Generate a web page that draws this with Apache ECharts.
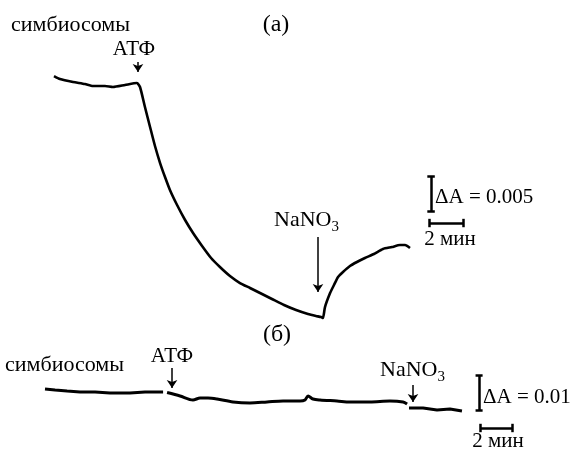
<!DOCTYPE html>
<html lang="ru">
<head>
    <meta charset="UTF-8">
    <title>симбиосомы</title>
    <script src="https://cdn.jsdelivr.net/npm/echarts@6.0.0/dist/echarts.min.js"></script>
    <style>
        *{
            margin: 0;
            padding: 0;
        }
        .container{
            width: 573px;
            height: 452px;
        }
    </style>
</head>
<body>
<div class="container"></div>
<script>
    // (а) время, мин / изменение поглощения ΔA
    let timeA = [0, 0.35, 1.12, 1.82, 2.29, 3.0, 3.47, 4.18, 4.88,
        5.06, 5.35, 5.65, 5.94, 6.24, 6.53, 6.82, 7.24, 7.71, 8.18,
        8.71, 9.24, 9.76, 10.35, 10.94, 11.53, 12.12, 12.82, 13.53, 14.24,
        14.94, 15.41, 15.71, 15.82,
        15.94, 16.24, 16.47, 16.71, 17.0, 17.41, 17.82, 18.29, 18.82, 19.35,
        19.88, 20.35, 20.65, 20.94];
    let absA = [0.00014, -0.00029, -0.00071, -0.0010, -0.00129, -0.00129, -0.00143, -0.00114, -0.00086,
        -0.00143, -0.00429, -0.00714, -0.00986, -0.01229, -0.01429, -0.01614, -0.01829, -0.02043, -0.02229,
        -0.02414, -0.02586, -0.02714, -0.02843, -0.02943, -0.03014, -0.03086, -0.03171, -0.03257, -0.03329,
        -0.03386, -0.03414, -0.03429, -0.03443,
        -0.03286, -0.03086, -0.02971, -0.02857, -0.02786, -0.0270, -0.02643, -0.02586, -0.02529, -0.02457,
        -0.02429, -0.0240, -0.0240, -0.02443];

    // (б) три участка записи: до АТФ, после АТФ, после NaNO3
    let timeB1 = [0, 0.63, 1.38, 2.19, 3.13, 4.06, 5.31, 6.25, 7.38];
    let absB1 = [0, -0.00029, -0.00057, -0.00086, -0.00086, -0.00114, -0.00114, -0.00086, -0.00086];
    let timeB2 = [7.63, 8.44, 9.25, 9.69, 10.19, 10.75, 11.75, 12.81, 13.88, 14.88, 15.94,
        16.25, 16.44, 16.75, 17.19, 18.25, 19.06, 20.31, 21.56, 22.38, 22.63];
    let absB2 = [-0.0010, -0.0020, -0.00314, -0.00257, -0.00257, -0.00286, -0.00371, -0.0040, -0.00371, -0.00343, -0.00343,
        -0.00314, -0.00200, -0.00286, -0.00314, -0.00343, -0.00371, -0.00371, -0.00343, -0.00371, -0.00429];
    let timeB3 = [22.75, 23.63, 24.5, 25.31, 26.06];
    let absB3 = [-0.00543, -0.00543, -0.0060, -0.00571, -0.00629];

    // добавки: [время, начало стрелки, острие]
    let arrowsA = [[4.94, 0.00214, 0.00071], [15.53, -0.02286, -0.03071]];
    let arrowsB = [[7.94, 0.0060, 0.00029], [23.0, 0.00114, -0.00371]];

    // масштаб
    let scaleA = {t: 22.18, a: -0.01414, dA: 0.005, dt: 2, ty: -0.02086, t0: 22.06};
    let scaleB = {t: 27.13, a: 0.0040, dA: 0.01, dt: 2, ty: -0.01114, t0: 27.19};

    let zip = (xs, ys) => xs.map((x, i) => [x, ys[i]]);

    function bars(s, capT, capA) {
        return [
            {coords: [[s.t, s.a], [s.t, s.a - s.dA]]},
            {coords: [[s.t - capT, s.a], [s.t + capT, s.a]]},
            {coords: [[s.t - capT, s.a - s.dA], [s.t + capT, s.a - s.dA]]},
            {coords: [[s.t0, s.ty], [s.t0 + s.dt, s.ty]]},
            {coords: [[s.t0, s.ty + capA], [s.t0, s.ty - capA]]},
            {coords: [[s.t0 + s.dt, s.ty + capA], [s.t0 + s.dt, s.ty - capA]]}
        ];
    }

    let main = document.querySelectorAll(".container");
    let mycharts = echarts.init(main[0]);

    let trace = {color: '#000', width: 2.6};
    let font = 'Liberation Serif';

    function txt(text, x, y, size, align) {
        return {
            type: 'text',
            style: {
                text: text, x: x, y: y,
                font: size + 'px "' + font + '"',
                fill: '#000',
                textAlign: align, align: align,
                textVerticalAlign: 'middle', verticalAlign: 'middle'
            }
        };
    }

    function nano(x, y) {
        return {
            type: 'text',
            style: {
                text: '{n|NaNO}{s|3}', x: x, y: y,
                fill: '#000',
                align: 'left', verticalAlign: 'middle',
                rich: {
                    n: {fontSize: 22, fontFamily: font, lineHeight: 25, verticalAlign: 'top'},
                    s: {fontSize: 15, fontFamily: font, lineHeight: 15, verticalAlign: 'bottom'}
                }
            }
        };
    }

    let Option = {
        animation: false,
        backgroundColor: '#fff',
        grid: [
            {left: 0, right: 0, top: 0, bottom: 0},
            {left: 0, right: 0, top: 0, bottom: 0}
        ],
        xAxis: [
            {type: 'value', gridIndex: 0, min: -54 / 17, max: 519 / 17, show: false},
            {type: 'value', gridIndex: 1, min: -45 / 16, max: 528 / 16, show: false}
        ],
        yAxis: [
            {type: 'value', gridIndex: 0, min: -0.375 / 7, max: 0.077 / 7, show: false},
            {type: 'value', gridIndex: 1, min: -0.063 / 3.5, max: 0.389 / 3.5, show: false}
        ],
        series: [
            {
                type: 'line', xAxisIndex: 0, yAxisIndex: 0,
                data: zip(timeA, absA), showSymbol: false, smooth: 0.2,
                lineStyle: trace
            },
            {
                type: 'line', xAxisIndex: 1, yAxisIndex: 1,
                data: zip(timeB1, absB1), showSymbol: false, lineStyle: {color: '#000', width: 3}
            },
            {
                type: 'line', xAxisIndex: 1, yAxisIndex: 1,
                data: zip(timeB2, absB2), showSymbol: false, smooth: 0.3, lineStyle: {color: '#000', width: 3}
            },
            {
                type: 'line', xAxisIndex: 1, yAxisIndex: 1,
                data: zip(timeB3, absB3), showSymbol: false, lineStyle: {color: '#000', width: 3}
            },
            {
                type: 'lines', coordinateSystem: 'cartesian2d', xAxisIndex: 0, yAxisIndex: 0,
                symbol: ['none', 'arrow'], symbolSize: 8,
                lineStyle: {color: '#000', width: 1.5, opacity: 1},
                data: arrowsA.map(a => ({coords: [[a[0], a[1]], [a[0], a[2]]]}))
            },
            {
                type: 'lines', coordinateSystem: 'cartesian2d', xAxisIndex: 1, yAxisIndex: 1,
                symbol: ['none', 'arrow'], symbolSize: 8,
                lineStyle: {color: '#000', width: 1.5, opacity: 1},
                data: arrowsB.map(a => ({coords: [[a[0], a[1]], [a[0], a[2]]]}))
            },
            {
                type: 'lines', coordinateSystem: 'cartesian2d', xAxisIndex: 0, yAxisIndex: 0,
                lineStyle: {color: '#000', width: 2.5, opacity: 1},
                data: bars(scaleA, 0.22, 0.0006)
            },
            {
                type: 'lines', coordinateSystem: 'cartesian2d', xAxisIndex: 1, yAxisIndex: 1,
                lineStyle: {color: '#000', width: 2.5, opacity: 1},
                data: bars(scaleB, 0.22, 0.0012)
            }
        ],
        graphic: [
            txt('симбиосомы', 11, 25, 22, 'left'),
            txt('(а)', 276, 25, 24, 'center'),
            txt('АТФ', 134, 49, 21, 'center'),
            nano(274, 222),
            txt('ΔA = 0.005', 435, 197, 21, 'left'),
            txt('2 мин', 450, 239, 21, 'center'),
            txt('(б)', 277, 335, 24, 'center'),
            txt('симбиосомы', 5, 365, 22, 'left'),
            txt('АТФ', 172, 356, 21, 'center'),
            nano(380, 372),
            txt('ΔA = 0.01', 483, 397, 21, 'left'),
            txt('2 мин', 498, 441, 21, 'center')
        ]
    };

    mycharts.setOption(Option);
</script>
</body>
</html>
